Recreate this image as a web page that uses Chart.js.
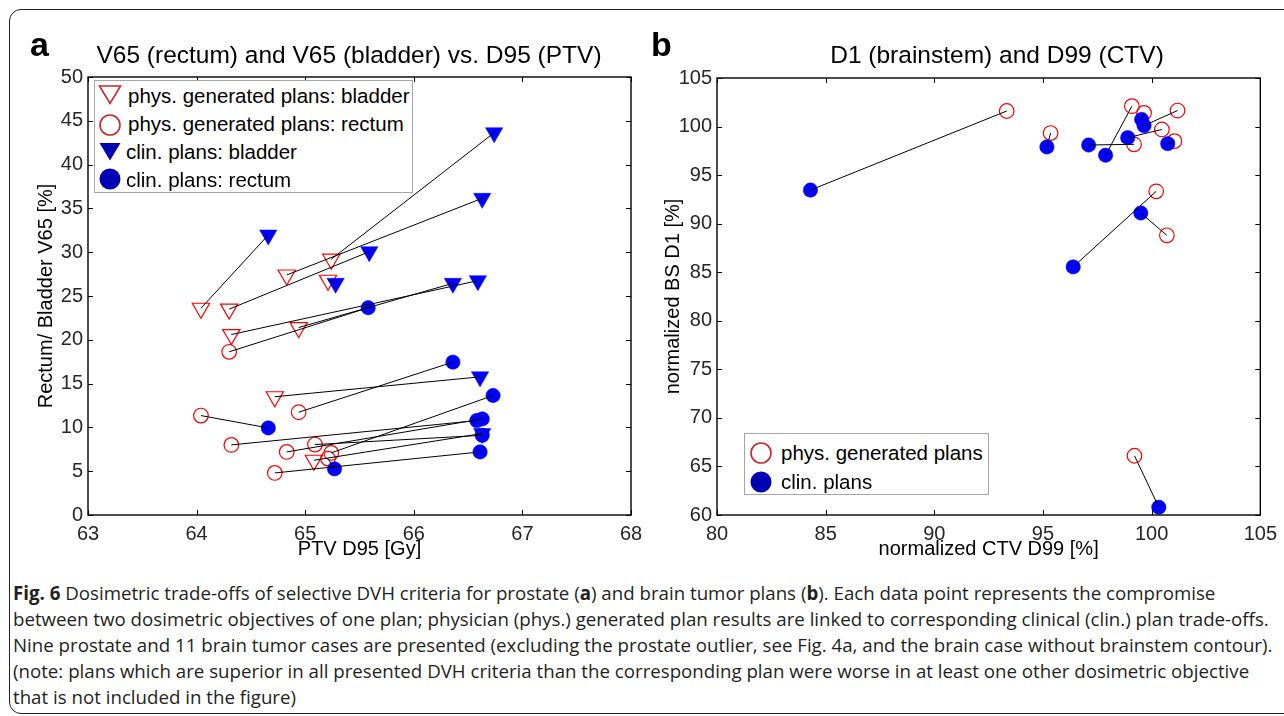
<!DOCTYPE html>
<html><head><meta charset="utf-8">
<script src="https://cdn.jsdelivr.net/npm/chart.js@4.4.1/dist/chart.umd.min.js"></script>
<style>
html,body{margin:0;padding:0;background:#fff;width:1284px;height:716px;overflow:hidden;font-family:"Liberation Sans",Arial,sans-serif;}
#frame{position:absolute;left:9px;top:9px;width:1300px;height:705px;border:1.5px solid #222;border-radius:12px;box-sizing:border-box;}
.panel{position:absolute;font-weight:bold;font-size:34px;line-height:34px;color:#000;}
.title{position:absolute;font-size:24.5px;line-height:24px;color:#000;white-space:nowrap;transform:translateX(-50%);}
canvas{position:absolute;top:0;}
#cA{left:0;}
#cB{left:645px;}
.legend{position:absolute;background:#fff;border:1.5px solid #a6a6a6;box-sizing:border-box;font-size:20.5px;color:#000;}
.legend .row{position:absolute;white-space:nowrap;height:28px;line-height:28px;}
.legend svg{position:absolute;}
#caption{position:absolute;left:13px;top:580px;font-family:"Open Sans",sans-serif;font-size:18.7px;line-height:26px;color:#231f20;white-space:nowrap;}
</style></head>
<body>
<div id="frame"></div>
<canvas id="cA" width="650" height="575"></canvas>
<canvas id="cB" width="639" height="575"></canvas>
<div class="panel" style="left:30px;top:27px;">a</div>
<div class="panel" style="left:651px;top:27px;">b</div>
<div class="title" style="left:349px;top:43px;">V65 (rectum) and V65 (bladder) vs. D95 (PTV)</div>
<div class="title" style="left:997px;top:43px;">D1 (brainstem) and D99 (CTV)</div>

<div class="legend" style="left:94px;top:80px;width:319px;height:113px;">
  <svg style="left:3px;top:3px" width="24" height="22"><polygon points="1.5,2 22.5,2 12,19.5" fill="none" stroke="#c8282d" stroke-width="1.6"/></svg>
  <div class="row" style="left:33px;top:1px;">phys. generated plans: bladder</div>
  <svg style="left:3px;top:32px" width="24" height="24"><circle cx="12" cy="12" r="10" fill="none" stroke="#c8282d" stroke-width="1.6"/></svg>
  <div class="row" style="left:33px;top:29px;">phys. generated plans: rectum</div>
  <svg style="left:3px;top:60px" width="24" height="22"><polygon points="1.5,2 22.5,2 12,19.5" fill="#0000b4"/></svg>
  <div class="row" style="left:31px;top:57px;">clin. plans: bladder</div>
  <svg style="left:3px;top:86px" width="24" height="24"><circle cx="12" cy="12" r="10.5" fill="#0000b4"/></svg>
  <div class="row" style="left:31px;top:85px;">clin. plans: rectum</div>
</div>

<div class="legend" style="left:744px;top:433px;width:245px;height:62px;">
  <svg style="left:4px;top:7px" width="24" height="24"><circle cx="12" cy="12" r="10" fill="none" stroke="#c8282d" stroke-width="1.6"/></svg>
  <div class="row" style="left:36px;top:5px;">phys. generated plans</div>
  <svg style="left:4px;top:36px" width="24" height="24"><circle cx="12" cy="12" r="10.5" fill="#0000b4"/></svg>
  <div class="row" style="left:36px;top:34px;">clin. plans</div>
</div>

<div id="caption"><b>Fig. 6</b> Dosimetric trade-offs of selective DVH criteria for prostate (<b>a</b>) and brain tumor plans (<b>b</b>). Each data point represents the compromise<br>between two dosimetric objectives of one plan; physician (phys.) generated plan results are linked to corresponding clinical (clin.) plan trade-offs.<br>Nine prostate and 11 brain tumor cases are presented (excluding the prostate outlier, see Fig. 4a, and the brain case without brainstem contour).<br>(note: plans which are superior in all presented DVH criteria than the corresponding plan were worse in at least one other dosimetric objective<br>that is not included in the figure)</div>

<script>
// ---- Panel a: prostate plans (x: PTV D95 [Gy], y: V65 [%]) ----
const physBladderD95 = [64.04, 64.30, 64.83, 65.24, 65.21, 64.32, 64.94, 64.72, 65.08];
const physBladderV65 = [23.6, 23.5, 27.4, 29.2, 26.8, 20.6, 21.4, 13.5, 6.25];
const clinBladderD95 = [64.66, 65.59, 66.63, 66.74, 65.28, 66.59, 66.36, 66.61, 66.63];
const clinBladderV65 = [31.96, 30.06, 36.15, 43.64, 26.45, 26.75, 26.45, 15.77, 9.3];

const physRectumD95 = [64.04, 64.30, 64.94, 64.32, 64.83, 65.09, 65.24, 65.21, 64.72];
const physRectumV65 = [11.35, 18.63, 11.73, 8.0, 7.2, 8.04, 7.09, 6.44, 4.8];
const clinRectumD95 = [64.66, 65.58, 66.36, 66.58, 66.63, 66.63, 66.73, 65.27, 66.61];
const clinRectumV65 = [9.94, 23.66, 17.45, 10.78, 10.97, 9.1, 13.64, 5.26, 7.2];

const ticksA_x = [63, 64, 65, 66, 67, 68];
const ticksA_y = [0, 5, 10, 15, 20, 25, 30, 35, 40, 45, 50];

// ---- Panel b: brain tumor plans (x: normalized CTV D99 [%], y: normalized BS D1 [%]) ----
const physCTV = [93.33, 95.35, 99.09, 99.65, 101.19, 100.47, 99.19, 101.05, 100.21, 100.70, 99.21];
const physBS  = [101.6, 99.33, 102.1, 101.4, 101.65, 99.7, 98.17, 98.5, 93.33, 88.8, 66.1];
const clinCTV = [84.30, 95.18, 97.88, 99.54, 99.65, 98.90, 97.10, 100.74, 96.39, 99.50, 100.33];
const clinBS  = [93.46, 97.9, 97.05, 100.73, 100.1, 98.86, 98.1, 98.24, 85.55, 91.1, 60.8];

const ticksB_x = [80, 85, 90, 95, 100, 105];
const ticksB_y = [60, 65, 70, 75, 80, 85, 90, 95, 100, 105];

// ---- helpers ----
const FONT = "'Liberation Sans', Arial, sans-serif";
Chart.defaults.font.family = FONT;
const pts = (xs, ys) => xs.map((v, i) => ({x: v, y: ys[i]}));
function links(ax, ay, bx, by) {
  const out = [];
  ax.forEach((v, i) => { out.push({x: v, y: ay[i]}, {x: bx[i], y: by[i]}, {x: bx[i], y: null}); });
  return out;
}
const RED = '#ff0000', BLUE = '#0000ff';

const framePlugin = {
  id: 'frameTicks',
  afterDraw(chart) {
    const {ctx, chartArea: {left, top, right, bottom}, scales: {x, y}} = chart;
    ctx.save();
    ctx.strokeStyle = '#000';
    ctx.lineWidth = 1;
    const L = 5;
    ctx.beginPath();
    x.ticks.forEach(t => {
      const p = Math.round(x.getPixelForValue(t.value)) + 0.5;
      ctx.moveTo(p, bottom); ctx.lineTo(p, bottom - L);
      ctx.moveTo(p, top); ctx.lineTo(p, top + L);
    });
    y.ticks.forEach(t => {
      const p = Math.round(y.getPixelForValue(t.value)) + 0.5;
      ctx.moveTo(left, p); ctx.lineTo(left + L, p);
      ctx.moveTo(right, p); ctx.lineTo(right - L, p);
    });
    ctx.stroke();
    ctx.lineWidth = 1.4;
    ctx.strokeRect(left, top, right - left, bottom - top);
    ctx.restore();
  }
};

function scaleCfg(min, max, step, tickVals, titleText, isX, yWidth, titlePad) {
  return {
    type: 'linear', min, max,
    afterBuildTicks: s => { s.ticks = tickVals.map(v => ({value: v})); },
    ticks: {stepSize: step, color: '#262626', font: {size: 20, family: FONT}, padding: isX ? 7 : 5, maxRotation: 0, autoSkip: false},
    grid: {display: false, drawTicks: false},
    border: {display: false},
    title: {display: true, text: titleText, color: '#000', font: {size: 20, family: FONT}, padding: titlePad},
    afterFit: s => { if (isX) s.height = 60; else s.width = yWidth; }
  };
}

function scatterSet(label, data, style, filled, color, radius, order) {
  return {
    label, data, order,
    pointStyle: style, rotation: style === 'triangle' ? 180 : 0,
    pointRadius: radius, pointHoverRadius: radius,
    backgroundColor: filled ? color : 'rgba(0,0,0,0)',
    borderColor: color, borderWidth: filled ? 0.5 : 1.2,
    showLine: false, clip: false
  };
}

function linkSet(data) {
  return {label: 'links', data, showLine: true, spanGaps: false, pointRadius: 0, pointHoverRadius: 0,
          borderColor: '#000', borderWidth: 1, order: 0, clip: false};
}

const commonOpts = {
  responsive: false, animation: false, events: [],
  plugins: {legend: {display: false}, tooltip: {enabled: false}, title: {display: false}}
};

new Chart(document.getElementById('cA'), {
  type: 'scatter',
  data: {datasets: [
    linkSet(links(physBladderD95, physBladderV65, clinBladderD95, clinBladderV65).concat(
            links(physRectumD95, physRectumV65, clinRectumD95, clinRectumV65))),
    scatterSet('clin. plans: bladder', pts(clinBladderD95, clinBladderV65), 'triangle', true, BLUE, 10, 1),
    scatterSet('clin. plans: rectum', pts(clinRectumD95, clinRectumV65), 'circle', true, BLUE, 7.2, 2),
    scatterSet('phys. generated plans: bladder', pts(physBladderD95, physBladderV65), 'triangle', false, RED, 10, 3),
    scatterSet('phys. generated plans: rectum', pts(physRectumD95, physRectumV65), 'circle', false, RED, 7.3, 4)
  ]},
  options: Object.assign({}, commonOpts, {
    layout: {padding: {top: 77, right: 19, bottom: 0, left: 0}},
    scales: {
      x: scaleCfg(63, 68, 1, ticksA_x, 'PTV D95 [Gy]', true, 0, {top: 0, bottom: 14}),
      y: scaleCfg(0, 50, 5, ticksA_y, 'Rectum/ Bladder V65 [%]', false, 88, {top: 34, bottom: 0})
    }
  }),
  plugins: [framePlugin]
});

new Chart(document.getElementById('cB'), {
  type: 'scatter',
  data: {datasets: [
    linkSet(links(physCTV, physBS, clinCTV, clinBS)),
    scatterSet('clin. plans', pts(clinCTV, clinBS), 'circle', true, BLUE, 7.2, 1),
    scatterSet('phys. generated plans', pts(physCTV, physBS), 'circle', false, RED, 7.3, 2)
  ]},
  options: Object.assign({}, commonOpts, {
    layout: {padding: {top: 78, right: 22, bottom: 0, left: 0}},
    scales: {
      x: scaleCfg(80, 105, 5, ticksB_x, 'normalized CTV D99 [%]', true, 0, {top: 0, bottom: 14}),
      y: scaleCfg(60, 105, 5, ticksB_y, 'normalized BS D1 [%]', false, 72, {top: 16, bottom: 0})
    }
  }),
  plugins: [framePlugin]
});
</script>
</body></html>
